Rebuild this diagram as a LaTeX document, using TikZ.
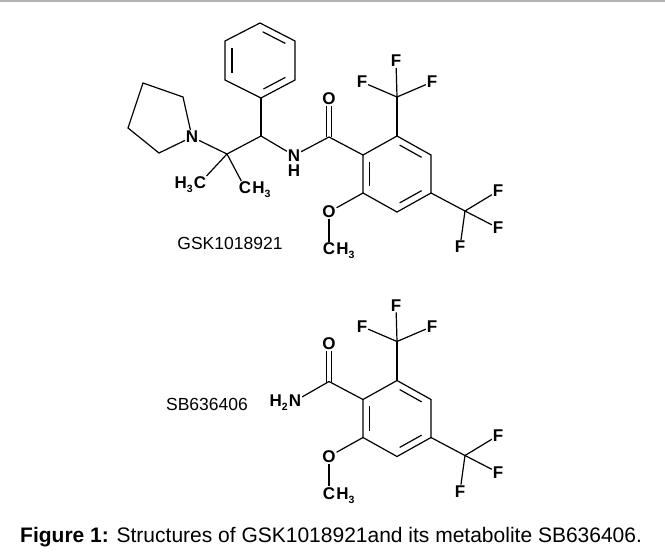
\documentclass[tikz,border=0pt]{standalone}
\usepackage{fontspec}
\setmainfont{Liberation Sans}
\usetikzlibrary{calc}
\tikzset{
  bond/.style={line width=1.2pt, draw=black},
  innerb/.style={line width=1.2pt, draw=black, shorten <=3pt, shorten >=3pt},
  atom/.style={font=\fontsize{17}{17}\selectfont\bfseries, inner sep=0.8pt, text=black},
  hs/.style={font=\fontsize{17}{17}\selectfont\bfseries, inner sep=0pt, text=black},
  cname/.style={font=\fontsize{17.5}{17.5}\selectfont, inner sep=0pt, text=black},
  capt/.style={font=\fontsize{21}{21}\selectfont, inner sep=0pt, text=black},
}
\newcommand\sbs[1]{\raisebox{-4pt}{\fontsize{10.5}{10.5}\selectfont #1}}
\newcommand\benzcore[2]{%
\begin{scope}[shift={(0,#2)}]
\coordinate (#1r1) at (363,155);
\coordinate (#1r2) at (397,136);
\coordinate (#1r3) at (431,155);
\coordinate (#1r4) at (431,193);
\coordinate (#1r5) at (397,212);
\coordinate (#1r6) at (363,193);
\coordinate (#1rc) at (397,174);
\coordinate (#1co) at (329,137);
\node[atom] (#1O) at (329,99) {O};
\coordinate (#1cf) at (397,97);
\node[atom] (#1fa) at (396,61) {F};
\node[atom] (#1fb) at (362,82) {F};
\node[atom] (#1fc) at (432,82) {F};
\coordinate (#1cg) at (465,211);
\node[atom] (#1fd) at (498,191) {F};
\node[atom] (#1fe) at (498,228) {F};
\node[atom] (#1ff) at (460,247) {F};
\node[atom] (#1om) at (329,212) {O};
\node[atom] (#1mc) at (329,249) {C};
\node[hs, anchor=base west] (#1mh) at (#1mc.base east) {H\sbs{3}};
\draw[bond] (#1r1) -- (#1r2) -- (#1r3) -- (#1r4) -- (#1r5) -- (#1r6) -- cycle;
\draw[innerb] ($(#1r1)!0.2!(#1rc)$) -- ($(#1r6)!0.2!(#1rc)$);
\draw[innerb] ($(#1r2)!0.2!(#1rc)$) -- ($(#1r3)!0.2!(#1rc)$);
\draw[innerb] ($(#1r4)!0.2!(#1rc)$) -- ($(#1r5)!0.2!(#1rc)$);
\draw[bond] (#1r1) -- (#1co);
\draw[bond] ([xshift=-2.6pt]#1co) -- ([xshift=-2.6pt]#1O.south);
\draw[bond] ([xshift=2.6pt]#1co) -- ([xshift=2.6pt]#1O.south);
\draw[bond] (#1r2) -- (#1cf);
\draw[bond] (#1cf) -- (#1fa);
\draw[bond] (#1cf) -- (#1fb);
\draw[bond] (#1cf) -- (#1fc);
\draw[bond] (#1r4) -- (#1cg);
\draw[bond] (#1cg) -- (#1fd);
\draw[bond] (#1cg) -- (#1fe);
\draw[bond] (#1cg) -- (#1ff);
\draw[bond] (#1r6) -- (#1om);
\draw[bond] (#1om) -- (#1mc);
\end{scope}}
\begin{document}
\begin{tikzpicture}[x=1pt,y=-1pt]
\useasboundingbox (0,0) rectangle (665,552);
\fill[white] (0,0) rectangle (665,552);
\draw[gray!60, line width=1.5pt] (0,0.75) -- (665,0.75);
% ---------- GSK1018921 ----------
\benzcore{a}{0}
% phenyl
\coordinate (p1) at (260,23);
\coordinate (p2) at (225,41);
\coordinate (p3) at (225,80);
\coordinate (p4) at (261,98);
\coordinate (p5) at (295,80);
\coordinate (p6) at (295,41);
\coordinate (pc) at (260,60);
\draw[bond] (p1) -- (p2) -- (p3) -- (p4) -- (p5) -- (p6) -- cycle;
\draw[innerb] ($(p2)!0.2!(pc)$) -- ($(p3)!0.2!(pc)$);
\draw[innerb] ($(p1)!0.2!(pc)$) -- ($(p6)!0.2!(pc)$);
\draw[innerb] ($(p4)!0.2!(pc)$) -- ($(p5)!0.2!(pc)$);
% backbone
\coordinate (ch) at (261,136);
\coordinate (cq) at (227,154);
\node[atom] (nh) at (294,155.5) {N};
\node[hs] (hh) at (294,171) {H};
\node[atom] (npy) at (192,137) {N};
\coordinate (y1) at (183,97);
\coordinate (y2) at (143,83);
\coordinate (y3) at (128,128);
\coordinate (y4) at (159,153);
\node[atom] (m1c) at (200,183) {C};
\node[hs, anchor=base east] (m1h) at (m1c.base west) {H\sbs{3}};
\node[atom] (m2c) at (245,188) {C};
\node[hs, anchor=base west] (m2h) at (m2c.base east) {H\sbs{3}};
\draw[bond] (p4) -- (ch);
\draw[bond] (ch) -- (nh);
\draw[bond] (nh) -- (aco);
\draw[bond] (ch) -- (cq);
\draw[bond] (cq) -- (npy);
\draw[bond] (npy) -- (y1) -- (y2) -- (y3) -- (y4) -- (npy);
\draw[bond] (cq) -- (m1c);
\draw[bond] (cq) -- (m2c);
\node[cname] (lab1) at (230,243) {GSK1018921};
% ---------- SB636406 ----------
\benzcore{b}{244.5}
\node[atom] (bn) at (295,401) {N};
\node[hs, anchor=base east] (bnh) at (bn.base west) {H\sbs{2}};
\draw[bond] (bco) -- (bn);
\node[cname] (lab2) at (207,404) {SB636406};
% ---------- caption ----------
\node[capt, anchor=base west] (cap) at (20,542) {\textbf{Figure 1:} Structures of GSK1018921and its metabolite SB636406.};
\end{tikzpicture}
\end{document}
